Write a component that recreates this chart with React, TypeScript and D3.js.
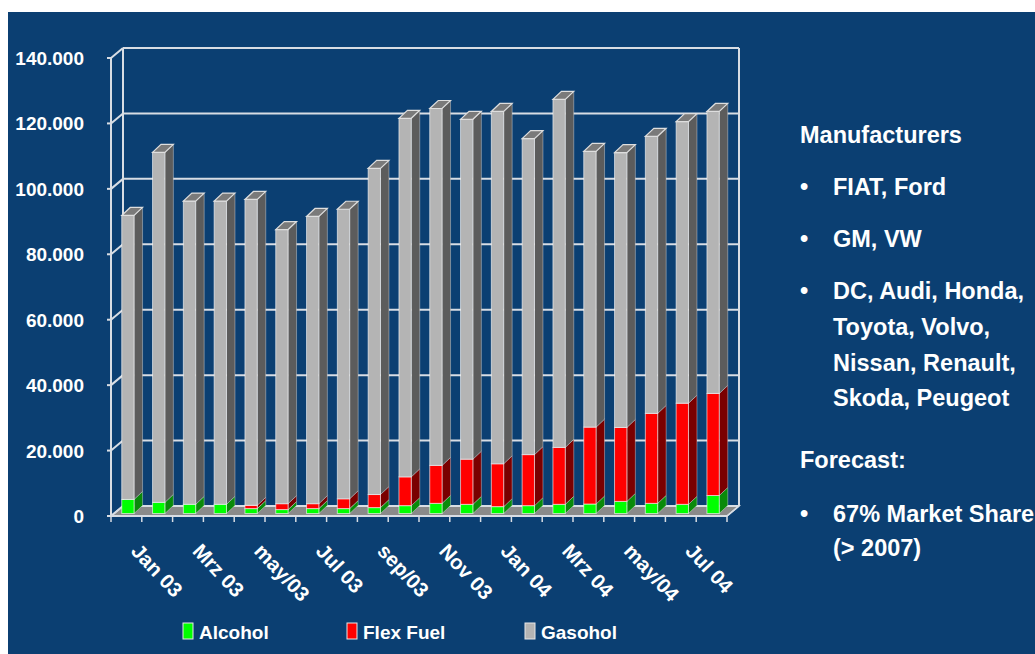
import * as d3 from 'd3';

// ── Data ──────────────────────────────────────────────────────────────────────
const CATEGORIES = [
  'Jan 03', 'Feb 03', 'Mrz 03', 'Apr 03', 'may/03', 'jun/03', 'Jul 03', 'Aug 03', 'sep/03', 'oct/03',
  'Nov 03', 'Dez 03', 'Jan 04', 'Feb 04', 'Mrz 04', 'Apr 04', 'may/04', 'jun/04', 'Jul 04', 'Aug 04',
];
// every second category carries a label
const X_LABELS = ['Jan 03', 'Mrz 03', 'may/03', 'Jul 03', 'sep/03', 'Nov 03', 'Jan 04', 'Mrz 04', 'may/04', 'Jul 04'];

const ALCOHOL = [4300, 3400, 2800, 2800, 1500, 1200, 1500, 1500, 1800, 2400, 3100, 2800, 2100, 2400, 2800, 2900, 3700, 3100, 2800, 5500];
const FLEX    = [0, 0, 0, 0, 1000, 1800, 1500, 3000, 4000, 8800, 11600, 13800, 13100, 15600, 17400, 23500, 22600, 27500, 30900, 31200];
const GASOHOL = [86800, 107000, 92700, 92700, 93500, 83800, 87800, 88500, 99700, 109600, 109100, 103900, 107700, 96600, 106400, 84300, 84000, 84700, 86100, 86200];

const Y_TICKS  = [0, 20000, 40000, 60000, 80000, 100000, 120000, 140000];
const Y_LABELS = ['0', '20.000', '40.000', '60.000', '80.000', '100.000', '120.000', '140.000'];

const SERIES = ['Alcohol', 'Flex Fuel', 'Gasohol'];

const MANUFACTURERS = ['FIAT, Ford', 'GM, VW', 'DC, Audi, Honda,', 'Toyota, Volvo,', 'Nissan, Renault,', 'Skoda, Peugeot'];

// ── Layout ────────────────────────────────────────────────────────────────────
const W = 1035;
const H = 654;
const X0 = 111;            // front axis left
const X1 = 727;            // front axis right
const Y_BASE = 516;        // front floor line
const Y_TOP  = 58;         // front 140.000
const DX = 12, DY = -10;   // full depth offset (back wall)
const FX = 1.5, FY = -2.5; // bar front plane offset
const BX = 8.5, BY = -8;   // bar depth

// ── Colors ────────────────────────────────────────────────────────────────────
const BG = '#0b3f72';
const GRID = '#d8dde4';
const FRONT = ['#00ff00', '#ff0000', '#b4b4b4'];
const SIDE  = ['#0a8a0a', '#7a0000', '#5c5c5c'];
const TOPC  = '#7a7a7a';
const FLOOR = '#8a8a8a';
const FONT = '"Liberation Sans", Arial, sans-serif';

export default function App() {
  const x = d3.scaleBand<string>().domain(CATEGORIES).range([X0, X1]).paddingInner(0.6).paddingOuter(0.3);
  const step = x.step();
  const bw = x.bandwidth();
  const y = d3.scaleLinear().domain([0, 140000]).range([Y_BASE, Y_TOP]);

  const rows = CATEGORIES.map((c, i) => ({ cat: c, a: ALCOHOL[i], f: FLEX[i], g: GASOHOL[i] }));
  const stacked = d3.stack<any>().keys(['a', 'f', 'g'])(rows);

  const poly = (pts: [number, number][]) => pts.map(p => p.join(',')).join(' ');

  return (
    <svg width={W} height={H} style={{ position: 'fixed', left: 0, top: 0, display: 'block' }}
      fontFamily={FONT}>
      <rect x={0} y={0} width={W} height={H} fill="#fff" />
      <rect x={8} y={12} width={W - 8} height={H - 12} fill={BG} />

      {/* Floor */}
      <polygon
        points={poly([[X0, Y_BASE], [X1, Y_BASE], [X1 + DX, Y_BASE + DY], [X0 + DX, Y_BASE + DY]])}
        fill={FLOOR} stroke={GRID} strokeWidth={1.5} />

      {/* Back wall gridlines + frame */}
      {Y_TICKS.map(v => (
        <line key={'bg' + v} x1={X0 + DX} x2={X1 + DX} y1={y(v) + DY} y2={y(v) + DY}
          stroke={GRID} strokeWidth={2} />
      ))}
      <line x1={X0 + DX} x2={X0 + DX} y1={y(0) + DY} y2={y(140000) + DY} stroke={GRID} strokeWidth={2} />
      <line x1={X1 + DX} x2={X1 + DX} y1={y(0) + DY} y2={y(140000) + DY} stroke={GRID} strokeWidth={2} />

      {/* Side wall gridlines */}
      {Y_TICKS.map(v => (
        <g key={'sw' + v}>
          <line x1={X0 - 4} x2={X0} y1={y(v)} y2={y(v)} stroke={GRID} strokeWidth={2} />
          <line x1={X0} x2={X0 + DX} y1={y(v)} y2={y(v) + DY} stroke={GRID} strokeWidth={2} />
        </g>
      ))}
      <line x1={X0} x2={X0} y1={y(0)} y2={y(140000)} stroke={GRID} strokeWidth={2} />

      {/* Category axis */}
      <line x1={X0} x2={X1} y1={Y_BASE} y2={Y_BASE} stroke={GRID} strokeWidth={2} />
      <line x1={X1} x2={X1 + DX} y1={Y_BASE} y2={Y_BASE + DY} stroke={GRID} strokeWidth={1.5} />
      {d3.range(CATEGORIES.length + 1).map(i => (
        <line key={'xt' + i} x1={X0 + i * step} x2={X0 + i * step} y1={Y_BASE} y2={Y_BASE + 6}
          stroke={GRID} strokeWidth={1.5} />
      ))}

      {/* Bars */}
      {rows.map((r, i) => {
        const xl = (x(r.cat) ?? 0) + FX;
        const xr = xl + bw;
        return (
          <g key={r.cat}>
            {stacked.map((s, k) => {
              const [v0, v1] = s[i];
              if (v1 - v0 <= 0) return null;
              const yb = y(v0) + FY;
              const yt = y(v1) + FY;
              return (
                <g key={k}>
                  <polygon points={poly([[xr, yb], [xr + BX, yb + BY], [xr + BX, yt + BY], [xr, yt]])}
                    fill={SIDE[k]} stroke="rgba(255,255,255,0.45)" strokeWidth={0.8} />
                  <rect x={xl} y={yt} width={bw} height={yb - yt}
                    fill={FRONT[k]} stroke="rgba(255,255,255,0.6)" strokeWidth={1} />
                  {k === 2 && (
                    <polygon points={poly([[xl, yt], [xr, yt], [xr + BX, yt + BY], [xl + BX, yt + BY]])}
                      fill={TOPC} stroke="#dedede" strokeWidth={1.2} />
                  )}
                </g>
              );
            })}
          </g>
        );
      })}

      {/* Y labels */}
      {Y_TICKS.map((v, i) => (
        <text key={'yl' + v} x={84} y={y(v) + 7} textAnchor="end" fill="#fff"
          fontSize={19} fontWeight={700}>{Y_LABELS[i]}</text>
      ))}

      {/* X labels */}
      {X_LABELS.map(lab => {
        const cx = (x(lab) ?? 0) + bw / 2 + 3.5;
        return (
          <text key={lab} transform={`translate(${cx},552) rotate(47)`} fill="#fff"
            fontSize={20.5} fontWeight={700}>{lab}</text>
        );
      })}

      {/* Legend */}
      {SERIES.map((s, k) => {
        const lx = [183, 347, 525][k];
        return (
          <g key={s}>
            <rect x={lx} y={623} width={10} height={16} fill={FRONT[k]} stroke="#e8e8e8" strokeWidth={1} />
            <text x={lx + 16} y={639} fill="#fff" fontSize={19} fontWeight={700}>{s}</text>
          </g>
        );
      })}

      {/* Right text panel */}
      <g fill="#fff" fontWeight={700} fontSize={23.5}>
        <text x={800} y={143}>Manufacturers</text>
        {[0, 1, 2].map(i => (
          <text key={'b' + i} x={800} y={[195, 247, 299][i]}>•</text>
        ))}
        {MANUFACTURERS.map((m, i) => (
          <text key={m} x={833} y={[195, 247, 299, 335, 371, 406][i]}>{m}</text>
        ))}
        <text x={800} y={468}>Forecast:</text>
        <text x={800} y={522}>•</text>
        <text x={833} y={522}>67% Market Share</text>
        <text x={833} y={556}>(&gt; 2007)</text>
      </g>
    </svg>
  );
}
